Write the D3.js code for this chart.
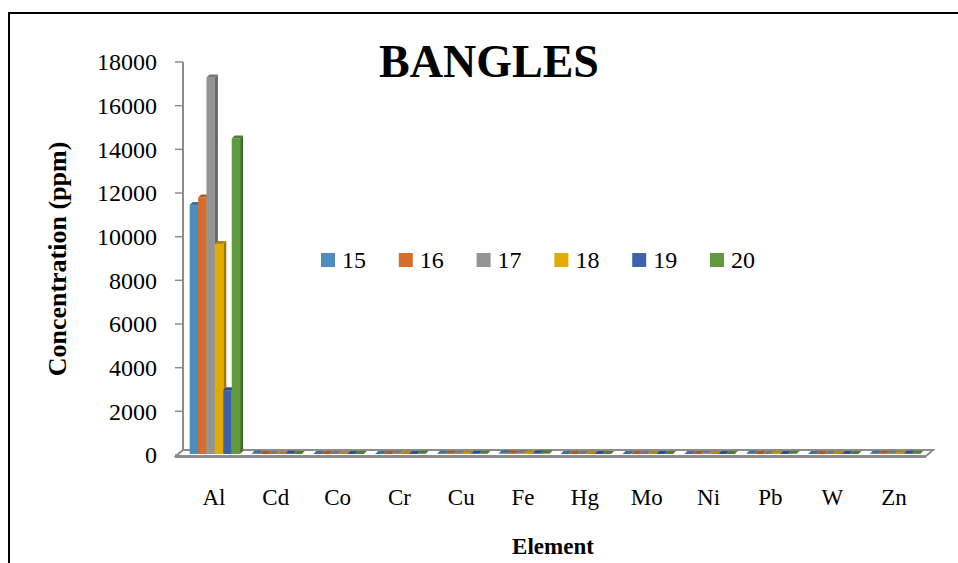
<!DOCTYPE html>
<html>
<head>
<meta charset="utf-8">
<script src="https://cdn.jsdelivr.net/npm/d3@7"></script>
<style>
  body { margin: 0; background: #fff; }
  svg { display: block; font-family: "Liberation Serif", "Times New Roman", serif; }
</style>
</head>
<body>
<div id="chart"></div>
<script>
// data
var elements = ["Al", "Cd", "Co", "Cr", "Cu", "Fe", "Hg", "Mo", "Ni", "Pb", "W", "Zn"];
var series = ["15", "16", "17", "18", "19", "20"];
var colors = ["#4e8bbf", "#d66e2b", "#939393", "#e3aa00", "#3c62ad", "#609a3e"];
var s15 = [11400, 6, 4, 5, 8, 30, 2, 3, 5, 6, 3, 9];
var s16 = [11750, 5, 3, 4, 7, 25, 2, 3, 4, 5, 2, 8];
var s17 = [17250, 4, 3, 6, 9, 35, 1, 2, 6, 4, 3, 10];
var s18 = [9620, 5, 4, 5, 6, 28, 2, 3, 5, 6, 2, 7];
var s19 = [2920, 6, 3, 4, 8, 22, 1, 2, 4, 5, 3, 9];
var s20 = [14450, 5, 4, 6, 7, 32, 2, 3, 5, 6, 2, 8];
var yTicks = [0, 2000, 4000, 6000, 8000, 10000, 12000, 14000, 16000, 18000];

var allSeries = [s15, s16, s17, s18, s19, s20];
var width = 958, height = 563;
var depth = 3; // 3d offset of the columns

var svg = d3.select("#chart").append("svg")
  .attr("width", width).attr("height", height);

// outer frame (only left and top are in view)
svg.append("path")
  .attr("d", "M9," + height + " L9,13 L" + width + ",13")
  .attr("fill", "none").attr("stroke", "#000").attr("stroke-width", 2);

var x = d3.scaleBand().domain(elements).range([183, 925]);
var xs = d3.scaleBand().domain(series).range([0, x.bandwidth()]).paddingOuter(0.68);
var y = d3.scaleLinear().domain([0, 18000]).range([455, 62]);

// back wall axis line
svg.append("line")
  .attr("x1", 183).attr("x2", 183)
  .attr("y1", y(18000)).attr("y2", y(0) - 2)
  .attr("stroke", "#8c8c8c").attr("stroke-width", 2);

// ticks + labels
var tick = svg.append("g").selectAll("g").data(yTicks).join("g")
  .attr("transform", function (d) { return "translate(0," + y(d) + ")"; });
tick.append("line").attr("x1", 175).attr("x2", 183)
  .attr("stroke", "#8c8c8c").attr("stroke-width", 1.5);
tick.append("text").attr("x", 157).attr("dy", "0.35em")
  .attr("text-anchor", "end").attr("font-size", 24)
  .text(function (d) { return d; });

// floor
var fy = y(0);
svg.append("path")
  .attr("d", "M176," + (fy + 1) + " L183," + (fy - 5) + " L933," + (fy - 5) +
    " L926," + (fy + 1) + " Z")
  .attr("fill", "#fff").attr("stroke", "#8c8c8c").attr("stroke-width", 2);
svg.append("rect")
  .attr("x", 175).attr("y", fy).attr("width", 751).attr("height", 3)
  .attr("fill", "#8c8c8c");

// columns
function shade(c, k) { return d3.color(c).darker(k).formatHex(); }
var bars = [];
elements.forEach(function (el, i) {
  series.forEach(function (s, j) {
    bars.push({ el: el, s: s, v: allSeries[j][i], c: colors[j] });
  });
});

var g = svg.append("g");
var bar = g.selectAll("g").data(bars).join("g");
bar.each(function (d) {
  var sel = d3.select(this);
  var x0 = x(d.el) + xs(d.s) + 1;
  var w = xs.bandwidth();
  var top = y(d.v) - 1, bot = fy - 1;
  // side face
  sel.append("path")
    .attr("d", "M" + (x0 + w) + "," + bot + " L" + (x0 + w) + "," + top +
      " L" + (x0 + w + depth) + "," + (top - depth) + " L" + (x0 + w + depth) + "," + (bot - depth) + " Z")
    .attr("fill", shade(d.c, 1));
  // front face
  sel.append("rect")
    .attr("x", x0).attr("y", top).attr("width", w).attr("height", Math.max(0, bot - top))
    .attr("fill", d.c);
  // top face
  sel.append("path")
    .attr("d", "M" + x0 + "," + top + " L" + (x0 + depth) + "," + (top - depth) +
      " L" + (x0 + w + depth) + "," + (top - depth) + " L" + (x0 + w) + "," + top + " Z")
    .attr("fill", shade(d.c, 0.6));
});

// category labels
svg.append("g").selectAll("text").data(elements).join("text")
  .attr("x", function (d) { return x(d) + x.bandwidth() / 2; })
  .attr("y", 505).attr("text-anchor", "middle").attr("font-size", 23)
  .text(function (d) { return d; });

// titles
svg.append("text").attr("x", 489).attr("y", 77).attr("text-anchor", "middle")
  .attr("font-size", 46).attr("font-weight", "bold").text("BANGLES");
svg.append("text").attr("transform", "translate(66,259) rotate(-90)")
  .attr("text-anchor", "middle").attr("font-size", 26).attr("font-weight", "bold")
  .text("Concentration (ppm)");
svg.append("text").attr("x", 553).attr("y", 554).attr("text-anchor", "middle")
  .attr("font-size", 23).attr("font-weight", "bold").text("Element");

// legend
var leg = svg.append("g").selectAll("g").data(series).join("g")
  .attr("transform", function (d, i) { return "translate(" + (321 + i * 77.8) + ",253)"; });
leg.append("rect").attr("width", 14).attr("height", 14)
  .attr("fill", function (d, i) { return colors[i]; });
leg.append("text").attr("x", 21).attr("y", 15).attr("font-size", 24)
  .text(function (d) { return d; });
</script>
</body>
</html>
